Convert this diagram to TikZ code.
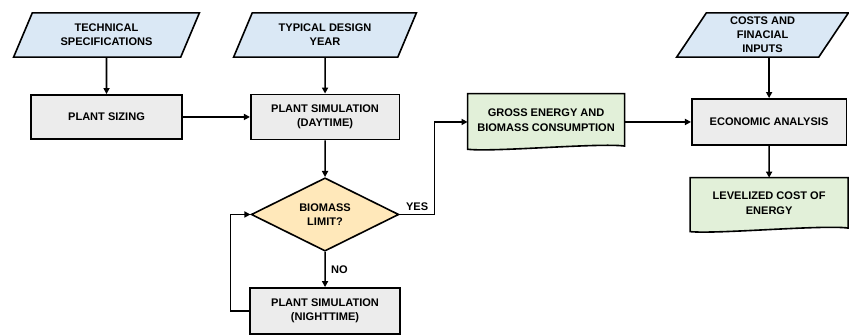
\documentclass[tikz,border=0pt]{standalone}
\usepackage{fontspec}
\setmainfont{Liberation Sans}
\usetikzlibrary{shapes.geometric,arrows.meta}
\definecolor{inblue}{RGB}{218,232,245}
\definecolor{boxgray}{RGB}{236,236,236}
\definecolor{docgreen}{RGB}{226,240,217}
\definecolor{decyellow}{RGB}{255,232,186}

\begin{document}
\begin{tikzpicture}[scale=0.35,
  every node/.style={font=\fontsize{11}{14}\selectfont\bfseries, align=center},
  inbox/.style={trapezium, trapezium left angle=52, trapezium right angle=128,
    trapezium stretches body, draw, line width=1.6pt, fill=inblue,
    minimum height=44pt, inner sep=1pt},
  procbox/.style={rectangle, draw, line width=1.6pt, fill=boxgray, minimum height=45pt},
  decbox/.style={diamond, aspect=2, draw, line width=1.6pt, fill=decyellow,
    minimum width=147pt, minimum height=73pt, inner sep=0pt},
  docbox/.style={rectangle, inner sep=0pt},
  docline/.style={line width=1.6pt, fill=docgreen},
  flow/.style={line width=1.6pt, -{Triangle[length=6pt,width=6pt]}}
]
\useasboundingbox (0,0) rectangle (84.9,33.6);
\path
  coordinate (c-tech) at (10.65,30.1)
  coordinate (c-year) at (32.5,30.1)
  coordinate (c-costs) at (76.25,30.1)
  coordinate (c-size) at (10.65,21.9)
  coordinate (c-day) at (32.5,21.9)
  coordinate (c-bio) at (32.5,12.15)
  coordinate (c-night) at (32.5,2.5)
  coordinate (c-gross) at (54.6,21.4)
  coordinate (c-econ) at (76.9,21.4)
  coordinate (c-lev) at (76.9,13.1)
  ;
% inputs
\node[inbox, minimum width=185pt] (tech) at (c-tech) {TECHNICAL\\SPECIFICATIONS};
\node[inbox, minimum width=182pt] (year) at (c-year) {TYPICAL DESIGN\\YEAR};
\node[inbox, minimum width=171pt] (costs) at (c-costs) {COSTS AND\\FINACIAL\\INPUTS};
% processes
\node[procbox, minimum width=150pt, minimum height=44pt] (size) at (c-size) {PLANT SIZING};
\node[procbox, minimum width=148pt] (day) at (c-day) {PLANT SIMULATION\\(DAYTIME)};
\node[decbox] (bio) at (c-bio) {BIOMASS\\LIMIT?};
\node[procbox, minimum width=149pt, minimum height=46pt] (night) at (c-night) {PLANT SIMULATION\\(NIGHTTIME)};
\node[procbox, minimum width=154pt, minimum height=46pt] (econ) at (c-econ) {ECONOMIC ANALYSIS};
% documents
\node[docbox, minimum width=156pt, minimum height=56pt] (gross) at (c-gross) {};
\filldraw[docline]
  (gross.north west) --
  (gross.north east) --
  ([yshift=12pt]gross.south east) .. controls ([xshift=-70pt,yshift=22pt]gross.south east)
    and ([xshift=70pt,yshift=-6pt]gross.south west) ..
  ([yshift=3pt]gross.south west) -- cycle;
\node (grosstxt) at ([yshift=5pt]gross.center) {GROSS ENERGY AND\\BIOMASS CONSUMPTION};
\node[docbox, minimum width=157pt, minimum height=54pt] (lev) at (c-lev) {};
\filldraw[docline]
  (lev.north west) --
  (lev.north east) --
  ([yshift=12pt]lev.south east) .. controls ([xshift=-70pt,yshift=22pt]lev.south east)
    and ([xshift=70pt,yshift=-6pt]lev.south west) ..
  ([yshift=2pt]lev.south west) -- cycle;
\node (levtxt) at ([yshift=5pt]lev.center) {LEVELIZED COST OF\\ENERGY};
% connectors
\draw[flow] (tech) -- (size);
\draw[flow] (year) -- (day);
\draw[flow] (size) -- (day);
\draw[flow] (day) -- (bio);
\draw[flow] (bio) -- node[right, xshift=2pt] {NO} (night);
\draw[flow] (night.west) -- ++(-1.9,0) |- (bio.west);
\draw[flow] (bio.east) -- node[above] {YES} ++(3.5,0) |- (gross.west);
\draw[flow] (gross.east) -- (econ.west);
\draw[flow] (costs.south -| econ.north) -- (econ.north);
\draw[flow] (econ) -- (lev.north);
\end{tikzpicture}
\end{document}
